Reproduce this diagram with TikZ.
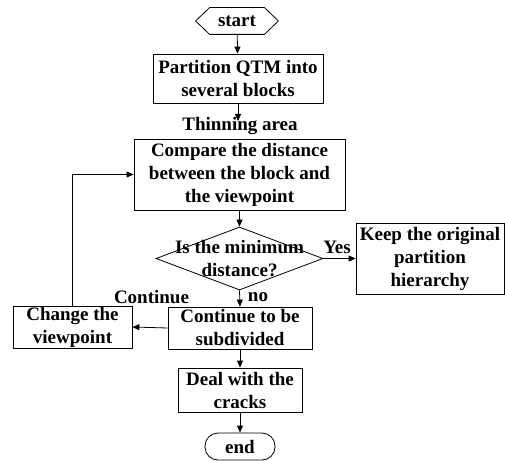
\documentclass[tikz,border=0pt]{standalone}
\usepackage{fontspec}
\setmainfont{Liberation Serif}
\usetikzlibrary{arrows.meta,shapes.geometric}

\begin{document}
\begin{tikzpicture}[x=1bp, y=-1bp, line width=0.8bp,
    font=\fontsize{19bp}{23bp}\selectfont\bfseries,
    box/.style={draw, align=center, inner sep=0pt},
    arr/.style={-{Triangle[length=7bp,width=6bp]}}]
    \useasboundingbox (0,0) rectangle (505,461);
    \node[inner sep=0pt, minimum width=82bp, minimum height=26bp] (start) at (237,21) {start};
    \draw (start.west) -- ([xshift=14bp]start.north west) -- ([xshift=-14bp]start.north east)
        -- (start.east) -- ([xshift=-14bp]start.south east) -- ([xshift=14bp]start.south west) -- cycle;
    \node[box, minimum width=170bp, minimum height=49bp] (part) at (238,78.5) {Partition QTM into\\several blocks};
    \coordinate (thinend) at (238,121);
    \node[box, minimum width=211bp, minimum height=71bp] (comp) at (239.5,174.5) {Compare the distance\\between the block and\\the viewpoint};
    \node[draw, diamond, inner sep=0pt, minimum width=167bp, minimum height=63bp] (dec) at (239.5,258.5) {};
    \node[align=center, inner sep=0pt] (dectext) at (239.5,258.5) {Is the minimum\\distance?};
    \node[box, minimum width=148bp, minimum height=71bp] (keep) at (430,258.5) {Keep the original\\partition\\hierarchy};
    \node[box, minimum width=144bp, minimum height=42bp] (cont) at (240,328) {Continue to be\\subdivided};
    \node[box, minimum width=119bp, minimum height=42bp] (chg) at (72.5,327) {Change the\\viewpoint};
    \node[box, minimum width=124bp, minimum height=44bp] (deal) at (240,390) {Deal with the\\cracks};
    \node[draw, rounded corners=13bp, inner sep=0pt, minimum width=70bp, minimum height=27bp] (end) at (240,446.5) {end};
    \draw[arr] (start) -- (part);
    \draw[arr] (part) -- (thinend);
    \node[inner sep=0pt] (thin) at (240,126) {Thinning area};
    \draw[arr] (comp) -- (dec);
    \draw[arr] (dec.east) -- (keep.west);
    \node[inner sep=0pt] (yes) at (337,247) {Yes};
    \draw[arr] (dec.south) -- (cont.north);
    \node[inner sep=0pt] (no) at (258,297) {no};
    \draw[arr] (cont.west) -- (chg.east);
    \node[inner sep=0pt] (again) at (151.5,297) {Continue};
    \draw[arr] (chg.north) |- (comp.west);
    \draw[arr] (cont) -- (deal);
    \draw[arr] (deal) -- (end);
\end{tikzpicture}
\end{document}
